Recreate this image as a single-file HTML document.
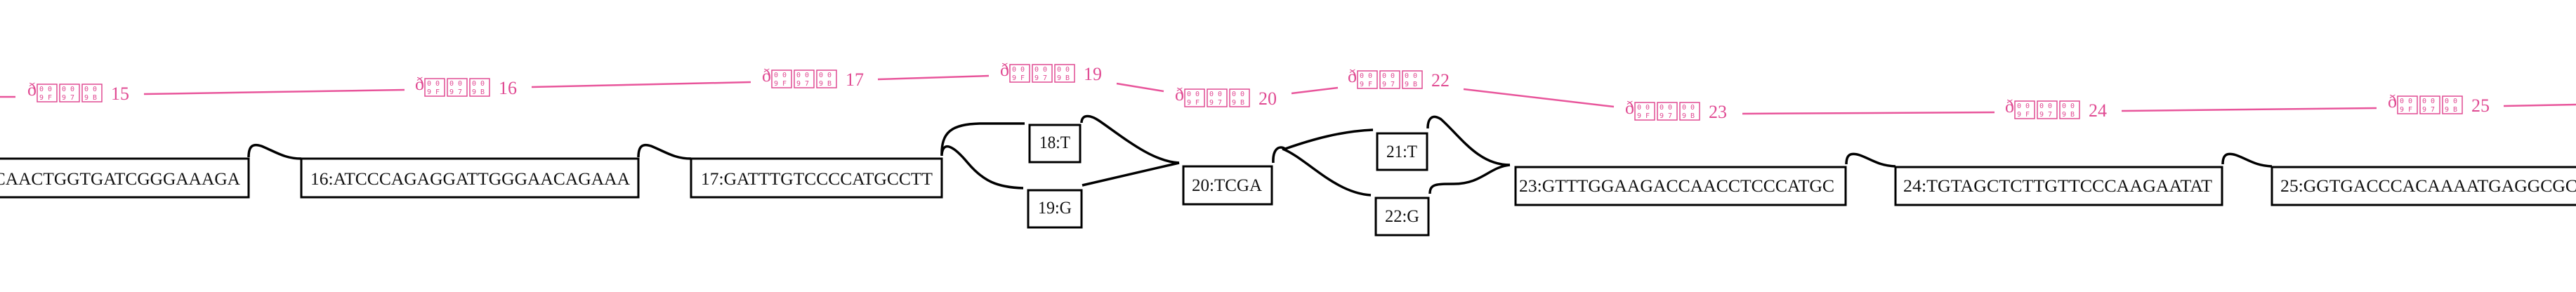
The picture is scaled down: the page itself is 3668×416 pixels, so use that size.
<!DOCTYPE html>
<html><head><meta charset="utf-8"><style>
html,body{margin:0;padding:0;background:#fff;}
svg{display:block;}
.bx{fill:#fff;stroke:#000;stroke-width:3;}
.e{fill:none;stroke:#000;stroke-width:3.5;}
.p{fill:none;stroke:#e8559b;stroke-width:2.5;}
.t{font-family:"Liberation Serif",serif;font-size:25px;fill:#111;}
.pl{font-family:"Liberation Serif",serif;font-size:26px;fill:#e04a92;}
.hx{font-family:"DejaVu Sans Mono","Liberation Mono",monospace;font-size:10px;fill:#e04a92;}
.hb{fill:none;stroke:#e04a92;stroke-width:1.5;}
</style></head><body>
<svg width="3668" height="416" viewBox="0 0 3668 416" xmlns="http://www.w3.org/2000/svg">
<defs>
<g id="bxs">
<rect class="hb" x="14" y="-22" width="28" height="25"/>
<text class="hx" x="17" y="-12">0 0</text><text class="hx" x="17" y="0">9 F</text>
<rect class="hb" x="46" y="-22" width="28" height="25"/>
<text class="hx" x="49" y="-12">0 0</text><text class="hx" x="49" y="0">9 7</text>
<rect class="hb" x="78" y="-22" width="28" height="25"/>
<text class="hx" x="81" y="-12">0 0</text><text class="hx" x="81" y="0">9 B</text>
</g>
</defs>

<path class="p" d="M0,138 L22,138"/>
<path class="p" d="M205,134 L576,128"/>
<path class="p" d="M757,124 L1069,117"/>
<path class="p" d="M1250,113 L1408,108"/>
<path class="p" d="M1590,119 L1657,130"/>
<path class="p" d="M1839,133 L1905,125"/>
<path class="p" d="M2084,127 L2298,152"/>
<path class="p" d="M2481,162 L2840,160"/>
<path class="p" d="M3021,158 L3384,154"/>
<path class="p" d="M3565,151 L3668,149"/>

<g transform="translate(39,142)"><text class="pl" x="0" y="-6">ð</text><use href="#bxs"/><text class="pl" x="119" y="0">15</text></g>
<g transform="translate(591,134)"><text class="pl" x="0" y="-6">ð</text><use href="#bxs"/><text class="pl" x="119" y="0">16</text></g>
<g transform="translate(1085,122)"><text class="pl" x="0" y="-6">ð</text><use href="#bxs"/><text class="pl" x="119" y="0">17</text></g>
<g transform="translate(1424,114)"><text class="pl" x="0" y="-6">ð</text><use href="#bxs"/><text class="pl" x="119" y="0">19</text></g>
<g transform="translate(1673,149)"><text class="pl" x="0" y="-6">ð</text><use href="#bxs"/><text class="pl" x="119" y="0">20</text></g>
<g transform="translate(1919,123)"><text class="pl" x="0" y="-6">ð</text><use href="#bxs"/><text class="pl" x="119" y="0">22</text></g>
<g transform="translate(2314,168)"><text class="pl" x="0" y="-6">ð</text><use href="#bxs"/><text class="pl" x="119" y="0">23</text></g>
<g transform="translate(2855,166)"><text class="pl" x="0" y="-6">ð</text><use href="#bxs"/><text class="pl" x="119" y="0">24</text></g>
<g transform="translate(3400,159)"><text class="pl" x="0" y="-6">ð</text><use href="#bxs"/><text class="pl" x="119" y="0">25</text></g>

<path class="e" d="M354,224 C354,208 360,204 372,208 C392,216 405,226 429,226"/>
<path class="e" d="M909,224 C909,208 915,204 927,208 C947,216 960,226 984,226"/>
<path class="e" d="M1341,222 C1340,188 1355,177 1395,176 L1459,176"/>
<path class="e" d="M1341,220 C1343,200 1358,208 1378,232 C1400,258 1420,267 1457,268"/>
<path class="e" d="M1540,175 C1540,164 1550,162 1565,172 C1600,196 1640,230 1679,232"/>
<path class="e" d="M1541,264 L1679,232"/>
<path class="e" d="M1813,232 C1812,214 1820,206 1830,212 C1870,198 1910,187 1955,185"/>
<path class="e" d="M1826,212 C1860,225 1900,275 1952,278"/>
<path class="e" d="M2033,183 C2033,168 2040,162 2052,170 C2080,195 2105,235 2150,235"/>
<path class="e" d="M2036,276 C2036,262 2045,262 2070,262 C2110,262 2120,238 2150,235"/>
<path class="e" d="M2629,234 C2629,220 2635,217 2648,221 C2665,227 2675,236 2699,237"/>
<path class="e" d="M3165,234 C3165,220 3171,217 3184,221 C3201,227 3211,236 3235,237"/>

<rect class="bx" x="-10" y="226" width="364" height="55"/>
<text class="t" x="-43" y="263" textLength="385" lengthAdjust="spacingAndGlyphs">GTCAACTGGTGATCGGGAAAGA</text>
<rect class="bx" x="429" y="226" width="480" height="55"/>
<text class="t" x="442" y="263" textLength="455" lengthAdjust="spacingAndGlyphs">16:ATCCCAGAGGATTGGGAACAGAAA</text>
<rect class="bx" x="984" y="226" width="357" height="55"/>
<text class="t" x="998" y="263" textLength="330" lengthAdjust="spacingAndGlyphs">17:GATTTGTCCCCATGCCTT</text>

<rect class="bx" x="1466" y="178" width="72" height="53"/>
<text class="t" x="1480" y="211" textLength="44" lengthAdjust="spacingAndGlyphs">18:T</text>
<rect class="bx" x="1464" y="271" width="76" height="53"/>
<text class="t" x="1478" y="304" textLength="48" lengthAdjust="spacingAndGlyphs">19:G</text>
<rect class="bx" x="1685" y="237" width="126" height="54"/>
<text class="t" x="1697" y="272" textLength="100" lengthAdjust="spacingAndGlyphs">20:TCGA</text>
<rect class="bx" x="1961" y="190" width="71" height="52"/>
<text class="t" x="1974" y="224" textLength="44" lengthAdjust="spacingAndGlyphs">21:T</text>
<rect class="bx" x="1959" y="282" width="75" height="53"/>
<text class="t" x="1972" y="316" textLength="49" lengthAdjust="spacingAndGlyphs">22:G</text>

<rect class="bx" x="2158" y="238" width="470" height="54"/>
<text class="t" x="2163" y="273" textLength="449" lengthAdjust="spacingAndGlyphs">23:GTTTGGAAGACCAACCTCCCATGC</text>
<rect class="bx" x="2699" y="238" width="465" height="54"/>
<text class="t" x="2710" y="273" textLength="440" lengthAdjust="spacingAndGlyphs">24:TGTAGCTCTTGTTCCCAAGAATAT</text>
<rect class="bx" x="3235" y="238" width="480" height="54"/>
<text class="t" x="3247" y="273" textLength="460" lengthAdjust="spacingAndGlyphs">25:GGTGACCCACAAAATGAGGCGCAG</text>
</svg>
</body></html>
